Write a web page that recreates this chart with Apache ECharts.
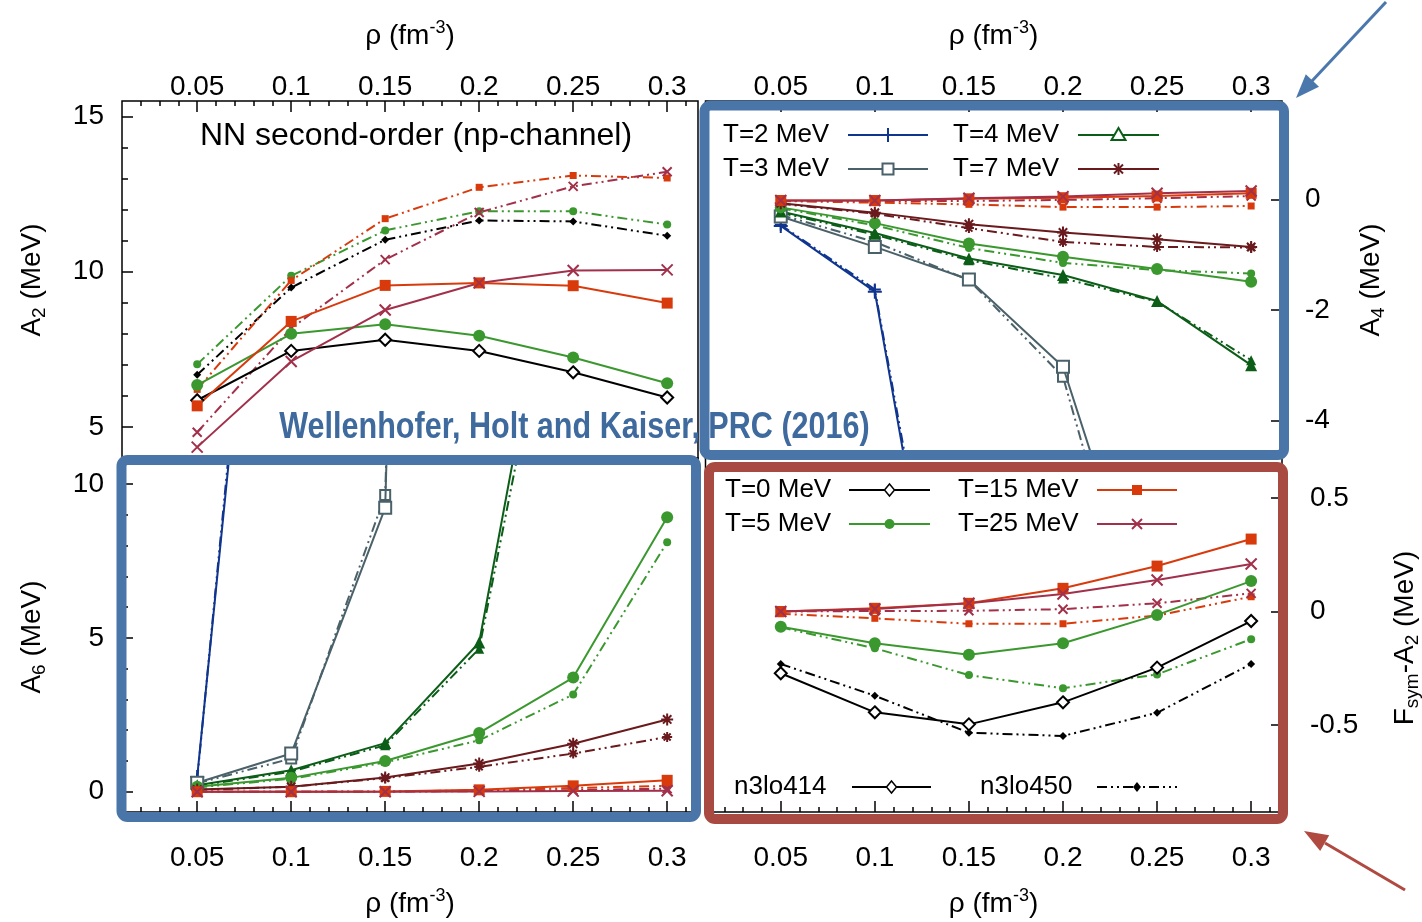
<!DOCTYPE html>
<html><head><meta charset="utf-8">
<script src="https://cdn.jsdelivr.net/npm/echarts@6/dist/echarts.min.js"></script>
<style>html,body{margin:0;padding:0;background:#fff}#c{width:1422px;height:922px}</style>
</head><body><div id="c"></div>
<script>
// ---------- data ----------
const rho = [0.05, 0.1, 0.15, 0.2, 0.25, 0.3];
const xTickLabels = [0.05, 0.1, 0.15, 0.2, 0.25, 0.3];
const xMinorTicks = [0.02,0.03,0.04,0.06,0.07,0.08,0.09,0.11,0.12,0.13,0.14,0.16,0.17,0.18,0.19,0.21,0.22,0.23,0.24,0.26,0.27,0.28,0.29,0.31];
const a2Ticks = [5, 10, 15];
const a2Minor = [6, 7, 8, 9, 11, 12, 13, 14];
const a4Ticks = [-4, -2, 0];
const a6Ticks = [0, 5, 10];
const a6Minor = [1, 2, 3, 4, 6, 7, 8, 9];
const fsTicks = [-0.5, 0, 0.5];

// A2 (top-left)
const a2_T0_414 = [5.86, 7.45, 7.81, 7.45, 6.76, 5.95];
const a2_T0_450 = [6.68, 9.49, 11.03, 11.65, 11.62, 11.16];
const a2_T5_414 = [6.35, 8.00, 8.31, 7.94, 7.24, 6.41];
const a2_T5_450 = [7.02, 9.87, 11.33, 11.95, 11.95, 11.52];
const a2_T15_414 = [5.68, 8.40, 9.56, 9.64, 9.55, 8.99];
const a2_T15_450 = [6.21, 9.72, 11.71, 12.72, 13.10, 13.02];
const a2_T25_414 = [4.35, 7.11, 8.77, 9.64, 10.04, 10.06];
const a2_T25_450 = [4.83, 8.18, 10.39, 11.91, 12.75, 13.22];

// A4 (top-right)
const a4_T2_414 = [-0.48, -1.67, -11.3];
const a4_T2_450 = [-0.46, -1.63, -11.0];
const a4_T3_414 = [-0.31, -0.86, -1.45, -3.03, -8.3];
const a4_T3_450 = [-0.28, -0.77, -1.46, -3.21, -9.2];
const a4_T4_414 = [-0.22, -0.61, -1.07, -1.37, -1.84, -3.00];
const a4_T4_450 = [-0.24, -0.64, -1.10, -1.43, -1.85, -2.91];
const a4_T5_414 = [-0.145, -0.43, -0.80, -1.04, -1.26, -1.49];
const a4_T5_450 = [-0.16, -0.47, -0.88, -1.15, -1.28, -1.34];
const a4_T7_414 = [-0.07, -0.24, -0.45, -0.60, -0.72, -0.86];
const a4_T7_450 = [-0.08, -0.26, -0.52, -0.77, -0.86, -0.87];
const a4_T15_414 = [-0.02, -0.02, 0.01, 0.03, 0.06, 0.11];
const a4_T15_450 = [-0.03, -0.06, -0.09, -0.14, -0.14, -0.12];
const a4_T25_414 = [-0.02, -0.02, 0.02, 0.05, 0.11, 0.15];
const a4_T25_450 = [-0.03, -0.03, -0.03, -0.01, 0.02, 0.06];

// A6 (bottom-left)
const a6_T2_414 = [0.48, 31];
const a6_T2_450 = [0.40, 32];
const a6_T3_414 = [0.29, 1.24, 9.23, 120];
const a6_T3_450 = [0.27, 1.08, 9.65, 110];
const a6_T4_414 = [0.21, 0.70, 1.58, 4.85, 21.3];
const a6_T4_450 = [0.19, 0.65, 1.51, 4.65, 20.0];
const a6_T5_414 = [0.16, 0.45, 1.00, 1.91, 3.71, 8.92];
const a6_T5_450 = [0.14, 0.42, 0.95, 1.67, 3.16, 8.11];
const a6_T7_414 = [0.07, 0.16, 0.46, 0.92, 1.56, 2.35];
const a6_T7_450 = [0.06, 0.16, 0.44, 0.81, 1.24, 1.78];
const a6_T15_414 = [0.0, 0.0, 0.01, 0.06, 0.19, 0.37];
const a6_T15_450 = [0.0, 0.0, 0.01, 0.04, 0.12, 0.19];
const a6_T25_414 = [0.0, 0.0, 0.0, 0.01, 0.02, 0.03];
const a6_T25_450 = [0.0, 0.0, 0.0, 0.02, 0.05, 0.10];

// Fsym - A2 (bottom-right)
const fs_T0_414 = [-0.272, -0.444, -0.497, -0.400, -0.247, -0.042];
const fs_T0_450 = [-0.231, -0.371, -0.534, -0.548, -0.446, -0.231];
const fs_T5_414 = [-0.067, -0.140, -0.190, -0.140, -0.015, 0.134];
const fs_T5_450 = [-0.070, -0.162, -0.280, -0.338, -0.277, -0.122];
const fs_T15_414 = [0.0, 0.014, 0.036, 0.102, 0.200, 0.319];
const fs_T15_450 = [-0.010, -0.030, -0.054, -0.054, -0.018, 0.065];
const fs_T25_414 = [0.0, 0.011, 0.036, 0.077, 0.139, 0.209];
const fs_T25_450 = [0.0, 0.002, 0.003, 0.010, 0.036, 0.080];

// ---------- styles ----------
const FONT = "'Liberation Sans', Arial, Helvetica, sans-serif";
const P_PLUS = 'path://M5,0L5,10M0,5L10,5';
const P_CROSS = 'path://M0,0L10,10M10,0L0,10';
const P_STAR = 'path://M5,0L5,10M0,5L10,5M1.5,1.5L8.5,8.5M8.5,1.5L1.5,8.5';
const STY = {
  0:  {c:'#000000', s1:'emptyDiamond', z1:12, s2:'diamond', z2:8},
  2:  {c:'#10358f', s1:P_PLUS, z1:14, s2:P_PLUS, z2:12},
  3:  {c:'#4a6169', s1:'emptyRect', z1:12, s2:'emptyRect', z2:10},
  4:  {c:'#0b5d17', s1:'triangle', z1:12, s2:'triangle', z2:10},
  5:  {c:'#3a982f', s1:'circle', z1:12, s2:'circle', z2:8},
  7:  {c:'#6a1a1c', s1:P_STAR, z1:12, s2:P_STAR, z2:10},
  15: {c:'#d83a0c', s1:'rect', z1:11, s2:'rect', z2:7},
  25: {c:'#a2304a', s1:P_CROSS, z1:11, s2:P_CROSS, z2:9}
};
const DASH = [10, 4, 2, 4, 2, 4];

function mk(gi, T, vals, dashed) {
  const st = STY[T];
  const sym = dashed ? st.s2 : st.s1;
  const isPath = sym.indexOf('path://') === 0;
  const isEmpty = sym.indexOf('empty') === 0;
  return {
    type: 'line', name: 'T=' + T + ' MeV',
    xAxisIndex: 2 * gi, yAxisIndex: 2 * gi,
    data: vals.map((v, i) => [rho[i], v]),
    symbol: sym, symbolSize: dashed ? st.z2 : st.z1, showSymbol: true,
    lineStyle: {color: st.c, width: 2, type: dashed ? DASH : 'solid'},
    itemStyle: {color: st.c, borderColor: st.c, borderWidth: (isPath || isEmpty) ? 2 : 0},
    clip: true, z: dashed ? 2 : 3, animation: false, silent: true
  };
}

const series = [
  mk(0, 0, a2_T0_414, false), mk(0, 0, a2_T0_450, true),
  mk(0, 5, a2_T5_414, false), mk(0, 5, a2_T5_450, true),
  mk(0, 15, a2_T15_414, false), mk(0, 15, a2_T15_450, true),
  mk(0, 25, a2_T25_414, false), mk(0, 25, a2_T25_450, true),

  mk(1, 2, a4_T2_414, false), mk(1, 2, a4_T2_450, true),
  mk(1, 3, a4_T3_414, false), mk(1, 3, a4_T3_450, true),
  mk(1, 4, a4_T4_414, false), mk(1, 4, a4_T4_450, true),
  mk(1, 5, a4_T5_414, false), mk(1, 5, a4_T5_450, true),
  mk(1, 7, a4_T7_414, false), mk(1, 7, a4_T7_450, true),
  mk(1, 15, a4_T15_414, false), mk(1, 15, a4_T15_450, true),
  mk(1, 25, a4_T25_414, false), mk(1, 25, a4_T25_450, true),

  mk(2, 2, a6_T2_414, false), mk(2, 2, a6_T2_450, true),
  mk(2, 3, a6_T3_414, false), mk(2, 3, a6_T3_450, true),
  mk(2, 4, a6_T4_414, false), mk(2, 4, a6_T4_450, true),
  mk(2, 5, a6_T5_414, false), mk(2, 5, a6_T5_450, true),
  mk(2, 7, a6_T7_414, false), mk(2, 7, a6_T7_450, true),
  mk(2, 15, a6_T15_414, false), mk(2, 15, a6_T15_450, true),
  mk(2, 25, a6_T25_414, false), mk(2, 25, a6_T25_450, true),

  mk(3, 0, fs_T0_414, false), mk(3, 0, fs_T0_450, true),
  mk(3, 5, fs_T5_414, false), mk(3, 5, fs_T5_450, true),
  mk(3, 15, fs_T15_414, false), mk(3, 15, fs_T15_450, true),
  mk(3, 25, fs_T25_414, false), mk(3, 25, fs_T25_450, true)
];

// ---------- layout ----------
const GR = [
  {left: 122, top: 101, width: 576, height: 357},
  {left: 705.5, top: 101, width: 576.5, height: 357},
  {left: 122, top: 458, width: 576, height: 354},
  {left: 705.5, top: 458, width: 576.5, height: 354}
];
const grid = GR.map(g => Object.assign({show: true, borderColor: '#000', borderWidth: 1.5, backgroundColor: 'transparent', containLabel: false}, g));

const XMIN = 0.01, XMAX = 0.3164;
const tickLS = {color: '#000', width: 1.5};
const lblStyle = {fontSize: 28, color: '#000', fontFamily: FONT};
const noLine = {show: false, onZero: false};

function xAxes(gi, pos) {
  return [
    {gridIndex: gi, type: 'value', position: pos, min: XMIN, max: XMAX,
     axisLine: noLine, splitLine: {show: false},
     axisTick: {show: true, inside: true, length: 11, lineStyle: tickLS, customValues: xTickLabels},
     axisLabel: Object.assign({show: true, customValues: xTickLabels, margin: pos === 'top' ? 0 : 32, formatter: v => String(v)}, lblStyle)},
    {gridIndex: gi, type: 'value', position: pos, min: XMIN, max: XMAX,
     axisLine: noLine, splitLine: {show: false},
     axisTick: {show: true, inside: true, length: 5, lineStyle: tickLS, customValues: xMinorTicks},
     axisLabel: {show: false}}
  ];
}
function yAxes(gi, pos, min, max, ticks, minor, margin) {
  return [
    {gridIndex: gi, type: 'value', position: pos, min: min, max: max,
     axisLine: noLine, splitLine: {show: false},
     axisTick: {show: true, inside: true, length: 11, lineStyle: tickLS, customValues: ticks},
     axisLabel: Object.assign({show: true, customValues: ticks, margin: margin, formatter: v => String(v)}, lblStyle)},
    {gridIndex: gi, type: 'value', position: pos, min: min, max: max,
     axisLine: noLine, splitLine: {show: false},
     axisTick: minor ? {show: true, inside: true, length: 6, lineStyle: tickLS, customValues: minor} : {show: false},
     axisLabel: {show: false}}
  ];
}

const xAxis = [].concat(xAxes(0, 'top'), xAxes(1, 'top'), xAxes(2, 'bottom'), xAxes(3, 'bottom'));
const yAxis = [].concat(
  yAxes(0, 'left', 4, 15.5, a2Ticks, a2Minor, 18),
  yAxes(1, 'right', -4.68, 1.78, a4Ticks, null, 23),
  yAxes(2, 'left', -0.66, 10.85, a6Ticks, a6Minor, 18),
  yAxes(3, 'right', -0.883, 0.676, fsTicks, null, 28)
);

// ---------- graphic (titles, legends, annotations) ----------
const G = [];
function txt(x, y, text, size, extra) {
  G.push(Object.assign({type: 'text', x: x, y: y, z: 50,
    style: {text: text, fontSize: size, fontFamily: FONT, fill: '#000', align: 'left', verticalAlign: 'middle'}}, extra || {}));
}
const RICH = {
  n: {fontSize: 28, fontFamily: FONT, color: '#000', lineHeight: 34},
  s: {fontSize: 18, fontFamily: FONT, color: '#000', lineHeight: 18, verticalAlign: 'top'},
  b: {fontSize: 19, fontFamily: FONT, color: '#000', lineHeight: 19, verticalAlign: 'bottom'}
};
function richTxt(x, y, text, rot) {
  G.push({type: 'text', x: x, y: y, rotation: rot || 0, z: 50,
    style: {text: text, rich: RICH, align: 'center', verticalAlign: 'middle', fill: '#000', fontSize: 28, fontFamily: FONT}});
}
const rhoTitle = '{n|ρ (fm}{s|-3}{n|)}';
richTxt(410, 36, rhoTitle);
richTxt(993.5, 36, rhoTitle);
richTxt(410, 904, rhoTitle);
richTxt(993.5, 904, rhoTitle);
richTxt(32, 280, '{n|A}{b|2}{n| (MeV)}', Math.PI / 2);
richTxt(1371, 280, '{n|A}{b|4}{n| (MeV)}', Math.PI / 2);
richTxt(32, 637, '{n|A}{b|6}{n| (MeV)}', Math.PI / 2);
richTxt(1405, 638, '{n|F}{b|sym}{n|-A}{b|2}{n| (MeV)}', Math.PI / 2);

G.push({type: 'text', x: 416, y: 136, z: 50,
  style: {text: 'NN second-order (np-channel)', fontSize: 32, fontFamily: FONT, fill: '#000', align: 'center', verticalAlign: 'middle'}});

function symG(kind, cx, cy, color) {
  const L = (x1, y1, x2, y2) => ({type: 'line', z: 60, shape: {x1, y1, x2, y2}, style: {stroke: color, lineWidth: 2}});
  switch (kind) {
    case 'plus': return [L(cx - 7, cy, cx + 7, cy), L(cx, cy - 7, cx, cy + 7)];
    case 'cross': return [L(cx - 5, cy - 5, cx + 5, cy + 5), L(cx + 5, cy - 5, cx - 5, cy + 5)];
    case 'star': return [L(cx - 6, cy, cx + 6, cy), L(cx, cy - 6, cx, cy + 6), L(cx - 4.5, cy - 4.5, cx + 4.5, cy + 4.5), L(cx + 4.5, cy - 4.5, cx - 4.5, cy + 4.5)];
    case 'emptyRect': return [{type: 'rect', z: 60, shape: {x: cx - 5.5, y: cy - 5.5, width: 11, height: 11}, style: {fill: '#fff', stroke: color, lineWidth: 2}}];
    case 'rect': return [{type: 'rect', z: 60, shape: {x: cx - 5, y: cy - 5, width: 10, height: 10}, style: {fill: color}}];
    case 'circle': return [{type: 'circle', z: 60, shape: {cx, cy, r: 5}, style: {fill: color}}];
    case 'triangle': return [{type: 'polygon', z: 60, shape: {points: [[cx, cy - 7], [cx + 7, cy + 5], [cx - 7, cy + 5]]}, style: {fill: '#fff', stroke: color, lineWidth: 2}}];
    case 'emptyDiamond': return [{type: 'polygon', z: 60, shape: {points: [[cx, cy - 6], [cx + 5, cy], [cx, cy + 6], [cx - 5, cy]]}, style: {fill: '#fff', stroke: color, lineWidth: 1.5}}];
    case 'diamond': return [{type: 'polygon', z: 60, shape: {points: [[cx, cy - 5], [cx + 4, cy], [cx, cy + 5], [cx - 4, cy]]}, style: {fill: color}}];
  }
  return [];
}
function legendItem(tx, y, text, x1, x2, color, kind, dashed) {
  txt(tx, y, text, 26);
  G.push({type: 'line', z: 55, shape: {x1: x1, y1: y, x2: x2, y2: y},
    style: {stroke: color, lineWidth: 2, lineDash: dashed ? DASH : null}});
  symG(kind, (x1 + x2) / 2, y, color).forEach(e => G.push(e));
}
legendItem(723, 135, 'T=2 MeV', 848, 928, STY[2].c, 'plus', false);
legendItem(723, 169, 'T=3 MeV', 848, 928, STY[3].c, 'emptyRect', false);
legendItem(953, 135, 'T=4 MeV', 1078, 1159, STY[4].c, 'triangle', false);
legendItem(953, 169, 'T=7 MeV', 1078, 1159, STY[7].c, 'star', false);
legendItem(725, 490, 'T=0 MeV', 849, 930, STY[0].c, 'emptyDiamond', false);
legendItem(725, 524, 'T=5 MeV', 849, 930, STY[5].c, 'circle', false);
legendItem(958, 490, 'T=15 MeV', 1097, 1177, STY[15].c, 'rect', false);
legendItem(958, 524, 'T=25 MeV', 1097, 1177, STY[25].c, 'cross', false);
legendItem(734, 787, 'n3lo414', 852, 931, '#000', 'emptyDiamond', false);
legendItem(980, 787, 'n3lo450', 1097, 1177, '#000', 'diamond', true);

// annotation boxes
const BLUE = '#4a75a8', RED = '#a84a42';
G.push({type: 'rect', z: 100, shape: {x: 704.5, y: 105.5, width: 579.5, height: 349.5, r: 6}, style: {fill: 'none', stroke: BLUE, lineWidth: 10}});
G.push({type: 'rect', z: 100, shape: {x: 121.5, y: 460, width: 574.5, height: 357, r: 6}, style: {fill: 'none', stroke: BLUE, lineWidth: 10}});
G.push({type: 'rect', z: 100, shape: {x: 709, y: 467, width: 574, height: 352, r: 6}, style: {fill: 'none', stroke: RED, lineWidth: 10}});
G.push({type: 'text', x: 574.5, y: 428, scaleX: 0.826, z: 110,
  style: {text: 'Wellenhofer, Holt and Kaiser, PRC (2016)', fontSize: 37, fontWeight: 'bold', fontFamily: FONT, fill: '#3f6a9e', align: 'center', verticalAlign: 'middle'}});

// arrows
G.push({type: 'line', z: 100, shape: {x1: 1386, y1: 2, x2: 1312, y2: 81}, style: {stroke: '#4a78ad', lineWidth: 3}});
G.push({type: 'polygon', z: 100, shape: {points: [[1296, 98], [1319, 86.7], [1305.8, 74.3]]}, style: {fill: '#4a78ad'}});
G.push({type: 'line', z: 100, shape: {x1: 1405, y1: 890, x2: 1325, y2: 843}, style: {stroke: '#b04a40', lineWidth: 3}});
G.push({type: 'polygon', z: 100, shape: {points: [[1304, 831], [1329.2, 835.3], [1320.2, 850.9]]}, style: {fill: '#b04a40'}});

const chart = echarts.init(document.getElementById('c'), null, {renderer: 'canvas'});
chart.setOption({
  animation: false,
  backgroundColor: '#fff',
  grid: grid,
  xAxis: xAxis,
  yAxis: yAxis,
  series: series,
  graphic: {elements: G}
});
</script>
</body></html>
